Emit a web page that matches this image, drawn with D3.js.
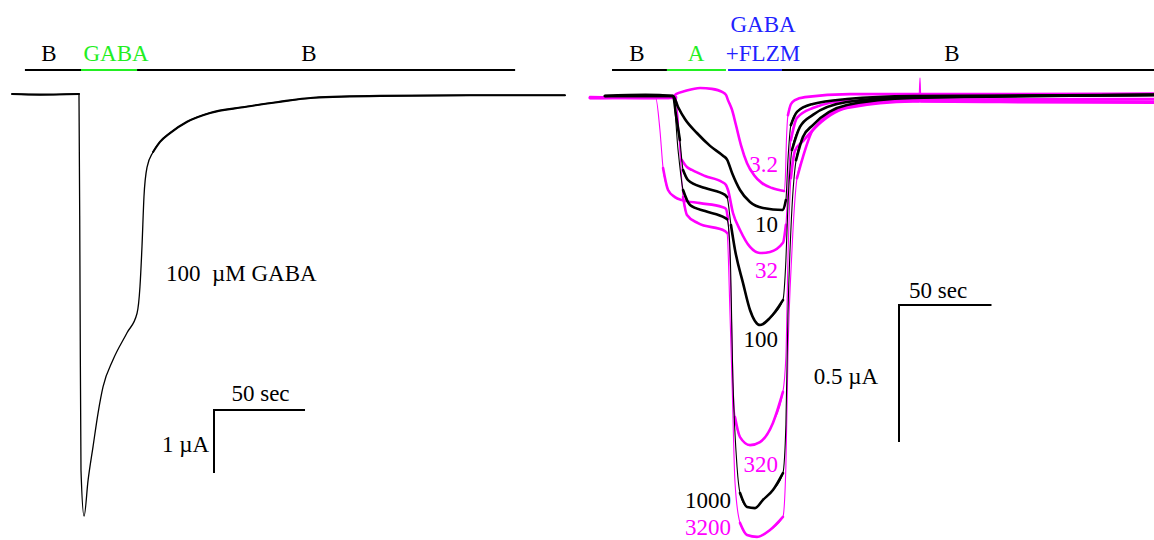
<!DOCTYPE html>
<html>
<head>
<meta charset="utf-8">
<script src="https://cdn.jsdelivr.net/npm/d3@7"></script>
<style>
  html, body { margin: 0; padding: 0; background: #fff; }
  svg { display: block; }
  text { font-family: "Liberation Serif", "Times New Roman", serif; }
</style>
</head>
<body>
<svg id="chart" width="1154" height="540"></svg>
<script>
// ---------------- DATA (time in s, current in µA) ----------------
// Left panel: single trace, 100 µM GABA
const leftTime = [0, 15.4, 36.8, 37.4, 37.9, 39.6, 41.8, 44.5, 47.3, 50.0, 55.5, 63.2, 68.7, 70.3, 71.4, 72.5, 74.2, 77.5, 81.3, 86.8, 96.2, 108.8, 126.9, 145.6, 165.4, 202.2, 251.6, 303.8];
const leftCurrent = [0, -0.01, 0, -3.27, -5.97, -6.70, -6.13, -5.60, -5.06, -4.65, -4.22, -3.79, -3.48, -3.06, -2.43, -1.63, -1.16, -0.92, -0.76, -0.62, -0.44, -0.30, -0.21, -0.13, -0.06, -0.03, -0.02, -0.02];

// Left panel solution bar
const leftSolutions = ["B", "GABA", "B"];
const leftSolStart = [7.1, 37.9, 68.7];
const leftSolEnd = [37.9, 68.7, 276.4];

// Right panel: FLZM concentrations (labels) and traces
const flzmConc = ["3.2", "10", "32", "100", "320", "1000", "3200"];

const t_3_2 = [0, 40, 44.9, 46.5, 51.4, 59.5, 65.9, 71.4, 73.5, 74.6, 76.8, 78.9, 81.6, 84.9, 88.6, 93.0, 98.4, 104.9, 105.6, 106.2, 107.0, 108.6, 110.8, 116.2, 140.5, 221.6, 304.9];
const i_3_2 = [-0.004, -0.007, -0.004, 0.007, 0.018, 0.029, 0.026, 0.015, 0.004, -0.015, -0.051, -0.106, -0.179, -0.245, -0.288, -0.318, -0.336, -0.347, -0.30, -0.16, -0.07, -0.03, -0.015, -0.004, 0.007, 0.007, 0.009];

const t_10 = [8.1, 30, 44.9, 47.6, 51.4, 57.8, 64.9, 71.9, 74.1, 76.8, 81.1, 86.5, 93.5, 104.3, 105.9, 107.0, 108.6, 111.9, 120.5, 138.9, 174.6, 304.9];
const i_10 = [0, 0.004, 0, -0.04, -0.085, -0.135, -0.182, -0.218, -0.232, -0.281, -0.343, -0.387, -0.409, -0.416, -0.38, -0.234, -0.106, -0.058, -0.029, -0.011, 0, 0.004];

const t_32 = [0, 40, 46.5, 47.6, 48.6, 49.7, 52.4, 55.1, 62.2, 71.4, 73.5, 74.6, 77.3, 81.1, 86.5, 91.9, 97.3, 104.3, 105.9, 107.0, 108.6, 111.9, 120.5, 138.9, 174.6, 304.9];
const i_32 = [-0.007, -0.004, -0.004, -0.088, -0.179, -0.234, -0.259, -0.270, -0.292, -0.314, -0.325, -0.343, -0.427, -0.489, -0.551, -0.573, -0.569, -0.536, -0.47, -0.343, -0.161, -0.080, -0.044, -0.018, -0.018, -0.020];

const t_100 = [8.1, 44.9, 46.5, 48.6, 50.3, 53.0, 62.2, 73.0, 74.1, 76.2, 78.4, 82.7, 86.5, 91.9, 97.3, 104.3, 105.9, 107.0, 109.2, 113.5, 120.5, 138.9, 174.6, 304.9];
const i_100 = [0, 0, -0.07, -0.161, -0.270, -0.307, -0.336, -0.361, -0.369, -0.471, -0.562, -0.682, -0.781, -0.836, -0.810, -0.745, -0.60, -0.40, -0.197, -0.113, -0.069, -0.022, -0.004, 0.004];

const t_320 = [0, 35.5, 37.8, 39.5, 42.2, 45.9, 49.7, 59.5, 71.4, 73.5, 74.6, 76.2, 77.3, 78.4, 81.1, 86.5, 91.9, 98.9, 104.3, 105.9, 107.0, 108.6, 110.8, 115.1, 120.5, 138.9, 174.6, 177.8, 178.4, 178.9, 221.6, 304.9];
const i_320 = [-0.007, -0.007, -0.124, -0.263, -0.343, -0.369, -0.380, -0.391, -0.405, -0.412, -0.45, -0.73, -1.047, -1.172, -1.245, -1.274, -1.263, -1.193, -1.080, -0.95, -0.60, -0.30, -0.20, -0.165, -0.124, -0.044, -0.020, -0.020, 0.066, -0.020, -0.022, -0.024];

const t_1000 = [8.1, 44.9, 47.6, 50.3, 54.1, 62.2, 73.0, 74.1, 75.7, 77.3, 79.5, 81.1, 84.9, 89.2, 93.5, 98.9, 104.3, 105.9, 107.0, 108.6, 111.4, 115.1, 120.5, 138.9, 174.6, 304.9];
const i_1000 = [0, 0, -0.197, -0.343, -0.398, -0.420, -0.445, -0.45, -0.562, -1.047, -1.354, -1.449, -1.500, -1.504, -1.474, -1.438, -1.376, -1.20, -0.80, -0.489, -0.234, -0.150, -0.106, -0.033, -0.007, 0.004];

const t_3200 = [0, 46.5, 48.6, 50.3, 52.4, 58.4, 73.0, 74.1, 75.7, 76.8, 78.4, 81.1, 84.9, 90.3, 97.3, 104.3, 105.9, 107.0, 109.2, 111.9, 115.1, 120.5, 138.9, 174.6, 304.9];
const i_3200 = [-0.007, -0.007, -0.20, -0.369, -0.434, -0.464, -0.493, -0.50, -0.80, -1.047, -1.412, -1.558, -1.602, -1.609, -1.584, -1.536, -1.35, -0.95, -0.562, -0.30, -0.223, -0.124, -0.040, -0.013, -0.011];

const rightTimes = [t_3_2, t_10, t_32, t_100, t_320, t_1000, t_3200];
const rightCurrents = [i_3_2, i_10, i_32, i_100, i_320, i_1000, i_3200];

// Right panel solution bar
const rightSolutions = ["B", "A", "GABA+FLZM", "B"];
const rightSolStart = [11.9, 41.6, 74.1, 103.8];
const rightSolEnd = [41.6, 73.5, 103.8, 304.9];

// Scale bars
const leftScaleTime = 50, leftScaleCurrent = 1;
const rightScaleTime = 50, rightScaleCurrent = 0.5;

// ---------------- STYLE / LAYOUT ----------------
const MAGENTA = "#ff00ff", GREEN = "#22ee22", BLUE = "#2222ff", BLACK = "#000";
const solColor = { "B": BLACK, "GABA": GREEN, "A": GREEN, "GABA+FLZM": BLUE };
const traceColor = [MAGENTA, BLACK, MAGENTA, BLACK, MAGENTA, BLACK, MAGENTA];
const FS = 23;

const svg = d3.select("#chart");

// scales
const xL = d3.scaleLinear().domain([0, 303.8]).range([12, 565]);
const yL = d3.scaleLinear().domain([0, -1]).range([94, 157]);
const xR = d3.scaleLinear().domain([0, 304.9]).range([590, 1154]);
const yR = d3.scaleLinear().domain([0, -0.5]).range([96, 233]);

function drawTrace(g, ts, is, xs, ys, color, thin, thick, slopeMax) {
  const pts = ts.map((t, k) => [xs(t), ys(is[k])]);
  const line = d3.line().curve(d3.curveMonotoneX);
  // thin full trace (fast transitions look thin in the recording)
  g.append("path").attr("d", line(pts)).attr("fill", "none")
    .attr("stroke", color).attr("stroke-width", thin);
  // thick noisy-looking overlay on slow runs
  let run = [pts[0]];
  const runs = [];
  for (let k = 1; k < pts.length; k++) {
    const dx = pts[k][0] - pts[k - 1][0], dy = Math.abs(pts[k][1] - pts[k - 1][1]);
    if (dy / dx <= slopeMax) { run.push(pts[k]); }
    else { if (run.length > 1) runs.push(run); run = [pts[k]]; }
  }
  if (run.length > 1) runs.push(run);
  runs.forEach(r => {
    g.append("path").attr("d", line(r)).attr("fill", "none")
      .attr("stroke", color).attr("stroke-width", thick)
      .attr("stroke-linejoin", "round").attr("stroke-linecap", "round");
  });
}

function drawSolutions(names, starts, ends, xs, yBar) {
  names.forEach((n, k) => {
    svg.append("line")
      .attr("x1", xs(starts[k]) + (k > 0 && names[k-1] !== "B" && n !== "B" ? 1 : 0))
      .attr("x2", xs(ends[k]))
      .attr("y1", yBar).attr("y2", yBar)
      .attr("stroke", solColor[n]).attr("stroke-width", 2.2);
  });
}

// ---------- Left panel ----------
const gL = svg.append("g");
drawTrace(gL, leftTime, leftCurrent, xL, yL, BLACK, 1.3, 2.1, 1.5);
drawSolutions(leftSolutions, leftSolStart, leftSolEnd, xL, 70);
const leftLabelX = [49, 116, 309];
leftSolutions.forEach((n, k) => {
  svg.append("text").attr("x", leftLabelX[k]).attr("y", 61)
    .attr("text-anchor", "middle").attr("font-size", FS)
    .attr("fill", solColor[n]).text(n);
});
svg.append("text").attr("x", 166).attr("y", 281).attr("font-size", FS)
  .style("white-space", "pre").text("100  \u00b5M GABA");

// left scale bar
{
  const x0 = 214, y0 = 410;
  const len = xL(leftScaleTime) - xL(0), hgt = yL(-leftScaleCurrent) - yL(0);
  svg.append("path").attr("d", `M${x0 + len},${y0}H${x0}V${y0 + hgt}`)
    .attr("fill", "none").attr("stroke", BLACK).attr("stroke-width", 2);
  svg.append("text").attr("x", x0 + len / 2 + 1).attr("y", y0 - 9).attr("text-anchor", "middle")
    .attr("font-size", FS).text(leftScaleTime + " sec");
  svg.append("text").attr("x", x0 - 5).attr("y", 452).attr("text-anchor", "end")
    .attr("font-size", FS).text(leftScaleCurrent + " \u00b5A");
}

// ---------- Right panel ----------
const gR = svg.append("g");
// magenta traces first, black on top
[0, 2, 4, 6, 1, 3, 5].forEach(k => {
  drawTrace(gR, rightTimes[k], rightCurrents[k], xR, yR, traceColor[k], 1.1, 2.6, 7);
});
drawSolutions(rightSolutions, rightSolStart, rightSolEnd, xR, 70);
const rightLabelX = [637, 696, 763, 952];
rightSolutions.forEach((n, k) => {
  if (n === "GABA+FLZM") {
    svg.append("text").attr("x", rightLabelX[k]).attr("y", 32)
      .attr("text-anchor", "middle").attr("font-size", FS).attr("fill", solColor[n]).text("GABA");
    svg.append("text").attr("x", rightLabelX[k]).attr("y", 61)
      .attr("text-anchor", "middle").attr("font-size", FS).attr("fill", solColor[n]).text("+FLZM");
  } else {
    svg.append("text").attr("x", rightLabelX[k]).attr("y", 61)
      .attr("text-anchor", "middle").attr("font-size", FS).attr("fill", solColor[n]).text(n);
  }
});

// concentration labels
const concLabelPos = [[778, 172], [778, 232], [778, 278], [778, 347], [778, 472], [731, 508], [731, 535]];
flzmConc.forEach((c, k) => {
  svg.append("text").attr("x", concLabelPos[k][0]).attr("y", concLabelPos[k][1])
    .attr("text-anchor", "end").attr("font-size", FS).attr("fill", traceColor[k]).text(c);
});

// right scale bar
{
  const x0 = 899, y0 = 305;
  const len = xR(rightScaleTime) - xR(0), hgt = yR(-rightScaleCurrent) - yR(0);
  svg.append("path").attr("d", `M${x0 + len},${y0}H${x0}V${y0 + hgt}`)
    .attr("fill", "none").attr("stroke", BLACK).attr("stroke-width", 2);
  svg.append("text").attr("x", 909).attr("y", 298)
    .attr("font-size", FS).text(rightScaleTime + " sec");
  svg.append("text").attr("x", 878).attr("y", 384).attr("text-anchor", "end")
    .attr("font-size", FS).text(rightScaleCurrent + " \u00b5A");
}
</script>
</body>
</html>
